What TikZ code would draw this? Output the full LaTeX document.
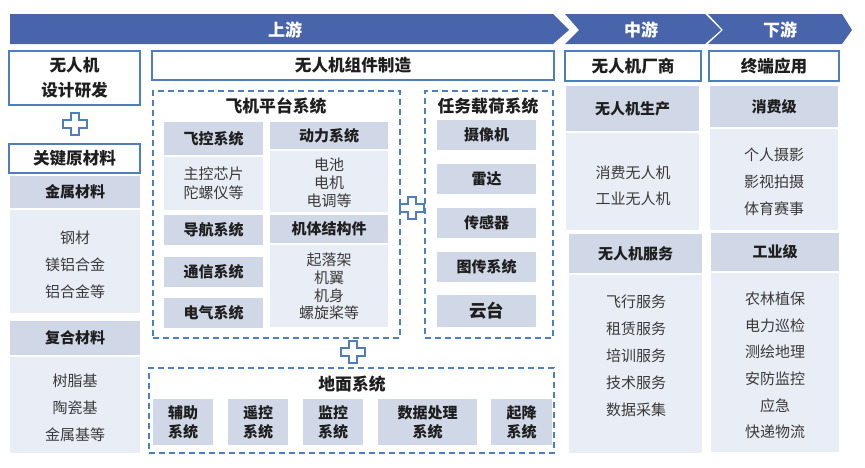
\documentclass[tikz,border=0pt]{standalone}
\usepackage{fontspec}
\setmainfont{Noto Sans CJK SC}
\definecolor{banner}{HTML}{4864AA}
\definecolor{bord}{HTML}{4F7EC0}
\definecolor{hfill}{HTML}{D0D7E6}
\definecolor{bfill}{HTML}{E9EDF5}
\definecolor{dashblue}{HTML}{4A80C0}
\definecolor{txtdark}{HTML}{1E1E1E}
\definecolor{txtreg}{HTML}{3A3A3A}
\newcommand\bx[7]{\node[#6, minimum width={(#4-#2)*1pt}, minimum height={(#5-#3)*1pt}] (#1) at ({(#2+#4)/2},{(#3+#5)/2}) {#7};}
\tikzset{
  wbox/.style={draw=bord, line width=1.6pt, fill=white, inner sep=0pt, text=txtdark, font=\fontsize{16.6}{25}\selectfont\bfseries, align=center},
  hdr/.style={fill=hfill, inner sep=0pt, text=txtdark, font=\fontsize{15}{19}\selectfont\bfseries, align=center},
  bdy/.style={fill=bfill, inner sep=0pt},
  dbox/.style={draw=dashblue, line width=1.6pt, dash pattern=on 6pt off 4pt, inner sep=0pt},
  ttl/.style={inner sep=0pt, text=txtdark, font=\fontsize{16.8}{20}\selectfont\bfseries},
  btxt/.style={inner sep=0pt, text=txtreg, align=center, font=\fontsize{15}{27}\selectfont},
  bantxt/.style={inner sep=0pt, text=white, font=\fontsize{17}{20}\selectfont\bfseries},
  plusmark/.pic={\draw[bord, line width=1.2pt, fill=white] (-4,-11)--(4,-11)--(4,-4)--(12,-4)--(12,4)--(4,4)--(4,11)--(-4,11)--(-4,4)--(-12,4)--(-12,-4)--(-4,-4)--cycle;}
}
\begin{document}
\begin{tikzpicture}[x=1pt,y=-1pt]
\useasboundingbox (0,0) rectangle (865,467);
% banners
\fill[banner] (10,14) -- (553,14) -- (569,30) -- (553,44) -- (10,44) -- cycle;
\fill[banner] (565,14) -- (705,14) -- (721,30) -- (705,44) -- (565,44) -- (579,30) -- cycle;
\fill[banner] (708,14) -- (842,14) -- (852,30) -- (842,44) -- (708,44) -- (723,30) -- cycle;
\node[bantxt] (up) at (285,30) {上游};
\node[bantxt] (mid) at (641,30) {中游};
\node[bantxt] (down) at (780,30) {下游};
% row 2
\bx{sj}{9}{51}{140}{105}{wbox}{无人机\\设计研发}
\bx{zj}{152}{51}{554}{80}{wbox}{无人机组件制造}
\bx{cs}{565}{51}{701}{81}{wbox}{无人机厂商}
\bx{zd}{709}{51}{839}{81}{wbox}{终端应用}
\bx{gj}{9}{144}{140}{173}{wbox}{关键原材料}
\pic at (75,124) {plusmark};
% left column
\bx{jsh}{10}{176}{140}{208}{hdr}{金属材料}
\bx{jsb}{10}{210}{140}{313}{bdy}{}
\node[btxt] (jst) at (75,265) {钢材\\镁铝合金\\铝合金等};
\bx{fhh}{10}{321}{140}{355}{hdr}{复合材料}
\bx{fhb}{10}{357}{140}{453}{bdy}{}
\node[btxt] (fht) at (75,408) {树脂基\\陶瓷基\\金属基等};
% flight platform
\bx{fj}{153}{91}{400}{338}{dbox}{}
\node[ttl] (fjt) at (276,106) {飞机平台系统};
\bx{fkh}{164}{122}{263}{155}{hdr}{飞控系统}
\bx{fkb}{164}{157}{263}{210}{bdy}{}
\node[btxt, font=\fontsize{15}{19}\selectfont] (fkt) at (213.5,183.5) {主控芯片\\陀螺仪等};
\bx{dlh}{270}{122}{388}{149}{hdr}{动力系统}
\bx{dlb}{270}{151}{388}{212}{bdy}{}
\node[btxt, font=\fontsize{15}{18}\selectfont] (dlt) at (329,183) {电池\\电机\\电调等};
\bx{dhh}{164}{215}{263}{245}{hdr}{导航系统}
\bx{jth}{270}{215}{388}{243}{hdr}{机体结构件}
\bx{jtb}{270}{245}{388}{327}{bdy}{}
\node[btxt, font=\fontsize{15}{17.7}\selectfont] (jtt) at (329,286.5) {起落架\\机翼\\机身\\螺旋桨等};
\bx{txh}{164}{257}{263}{287}{hdr}{通信系统}
\bx{dqh}{164}{298}{263}{328}{hdr}{电气系统}
\pic at (412,208) {plusmark};
% payload
\bx{rw}{425}{91}{553}{338}{dbox}{}
\node[ttl] (rwt) at (488,106) {任务载荷系统};
\bx{sxj}{437}{120}{536}{150}{hdr}{摄像机}
\bx{ld}{437}{164}{536}{194}{hdr}{雷达}
\bx{cgq}{437}{208}{536}{238}{hdr}{传感器}
\bx{tc}{437}{252}{536}{282}{hdr}{图传系统}
\bx{yt}{437}{295}{536}{327}{hdr, font=\fontsize{17.5}{20}\selectfont\bfseries}{云台}
\pic at (353,352) {plusmark};
% ground
\bx{dm}{149}{368}{554}{453}{dbox}{}
\node[ttl] (dmt) at (352,384) {地面系统};
\bx{fz}{153}{399}{213}{445}{hdr}{辅助\\系统}
\bx{yk}{228}{399}{288}{445}{hdr}{遥控\\系统}
\bx{jk}{303}{399}{363}{445}{hdr}{监控\\系统}
\bx{sjcl}{378}{399}{477}{445}{hdr}{数据处理\\系统}
\bx{qj}{491}{399}{552}{445}{hdr}{起降\\系统}
% middle column
\bx{sch}{566}{86}{699}{131}{hdr}{无人机生产}
\bx{scb}{566}{133}{699}{230}{bdy}{}
\node[btxt, font=\fontsize{15}{26}\selectfont] (sct) at (633,186) {消费无人机\\工业无人机};
\bx{fwh}{569}{234}{702}{273}{hdr}{无人机服务}
\bx{fwb}{569}{275}{702}{453}{bdy}{}
\node[btxt] (fwt) at (636,356) {飞行服务\\租赁服务\\培训服务\\技术服务\\数据采集};
% right column
\bx{xfh}{710}{86}{838}{127}{hdr}{消费级}
\bx{xfb}{710}{129}{838}{230}{bdy}{}
\node[btxt] (xft) at (774,182) {个人摄影\\影视拍摄\\体育赛事};
\bx{gyh}{711}{233}{839}{271}{hdr}{工业级}
\bx{gyb}{711}{273}{839}{452}{bdy}{}
\node[btxt, font=\fontsize{15}{26.6}\selectfont] (gyt) at (775,365.5) {农林植保\\电力巡检\\测绘地理\\安防监控\\应急\\快递物流};
\end{tikzpicture}
\end{document}
